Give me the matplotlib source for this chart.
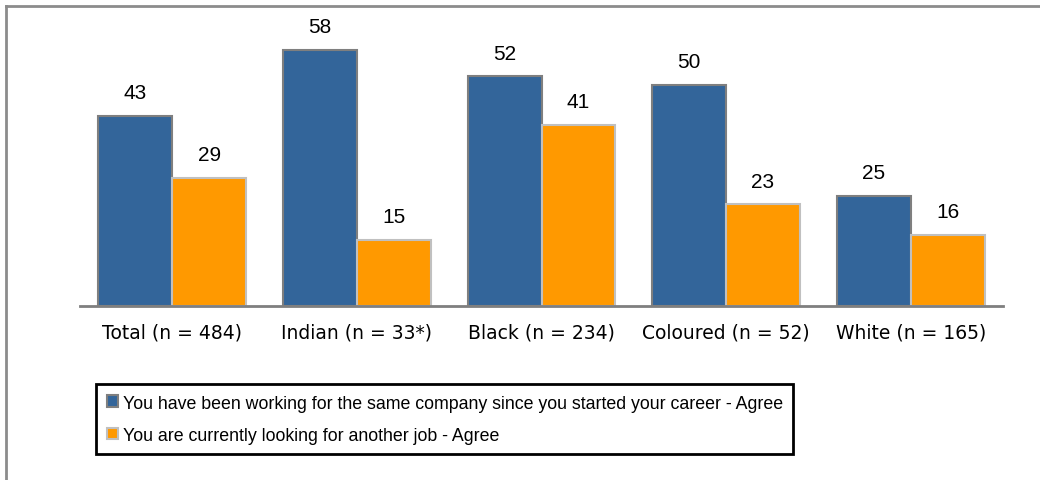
import matplotlib
matplotlib.use("Agg")
import matplotlib.pyplot as plt
import numpy as np
from matplotlib.lines import Line2D
from matplotlib.patches import Patch

categories = ["Total (n = 484)", "Indian (n = 33*)", "Black (n = 234)", "Coloured (n = 52)", "White (n = 165)"]
same_company = [43, 58, 52, 50, 25]
looking = [29, 15, 41, 23, 16]
series_names = ["You have been working for the same company since you started your career - Agree",
                "You are currently looking for another job - Agree"]

W, H = 1040, 481
fig = plt.figure(figsize=(W / 100, H / 100), dpi=100)
ax = fig.add_axes([80 / W, 1 - 307 / H, (1003 - 80) / W, (307 - 20) / H])

x = np.arange(len(categories))
bw = 0.4
blue = "#33659A"
orange = "#FF9900"
ax.bar(x - bw / 2, same_company, bw, color=blue, edgecolor="#7f7f7f", linewidth=1.5)
ax.bar(x + bw / 2, looking, bw, color=orange, edgecolor="#c0c0c0", linewidth=1.5)

for xs, vals in ((x - bw / 2, same_company), (x + bw / 2, looking)):
    for xi, v in zip(xs, vals):
        ax.annotate(str(v), (xi, v), xytext=(0, 10), textcoords="offset points",
                    ha="center", va="bottom", fontsize=15, family="Liberation Sans")

ax.set_xlim(-0.5, len(categories) - 0.5)
ax.set_ylim(0, 65)
ax.set_yticks([])
ax.set_xticks(x)
ax.set_xticklabels(categories, fontsize=13.5, family="DejaVu Sans")
ax.tick_params(axis="x", length=0, pad=12)
for s in ["top", "right", "left"]:
    ax.spines[s].set_visible(False)
ax.spines["bottom"].set_color("#7f7f7f")
ax.spines["bottom"].set_linewidth(2)

handles = [Patch(facecolor=blue, edgecolor="#7f7f7f", linewidth=1.5),
           Patch(facecolor=orange, edgecolor="#c0c0c0", linewidth=1.5)]
leg = fig.legend(handles, series_names, loc="upper left",
                 bbox_to_anchor=(96 / W, 1 - 385 / H), prop={"family": "Liberation Sans", "size": 12.8},
                 frameon=True, fancybox=False, framealpha=1, handlelength=0.65, handleheight=0.65,
                 handletextpad=0.25, borderpad=0.6, labelspacing=0.85, borderaxespad=0)
leg.get_frame().set_edgecolor("black")
leg.get_frame().set_linewidth(2)

fig.add_artist(Line2D([6 / W, 6 / W], [0, 1 - 7 / H], color="#8c8c8c", linewidth=2, transform=fig.transFigure))
fig.add_artist(Line2D([6 / W, 1], [1 - 7 / H, 1 - 7 / H], color="#8c8c8c", linewidth=2, transform=fig.transFigure))

fig.savefig("out.png", dpi=100)
